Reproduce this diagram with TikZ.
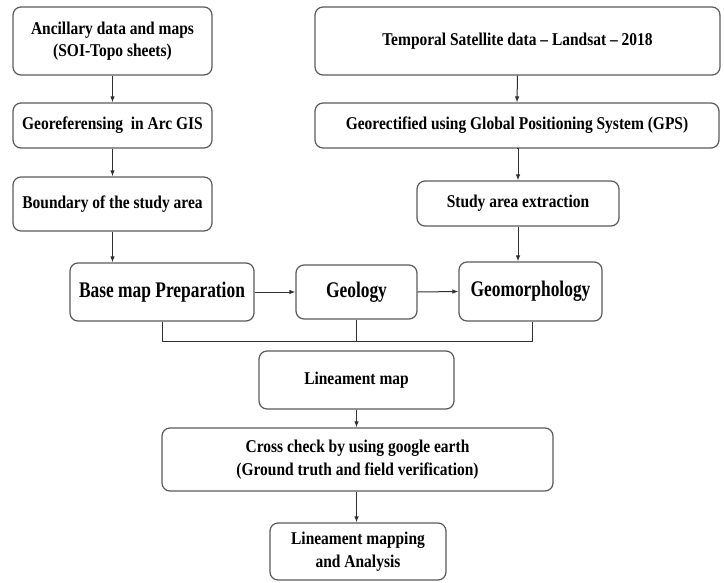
\documentclass[tikz,border=0pt]{standalone}
\usepackage{fontspec}
\setmainfont{Liberation Serif}[FakeStretch=0.86]
\newfontfamily\bigfont{Liberation Serif}[FakeStretch=0.78]
\usetikzlibrary{arrows.meta}
\definecolor{boxline}{HTML}{5A5A5A}
\definecolor{arrline}{HTML}{303030}
\tikzset{
  box/.style={draw=boxline, line width=1.2pt, rounded corners=8pt, align=center,
    inner sep=0pt, font=\fontsize{18}{22.5}\selectfont\bfseries, text=black},
  bigbox/.style={box, font=\bigfont\fontsize{22.3}{26}\selectfont\bfseries},
  arr/.style={draw=arrline, line width=1pt, -{Latex[length=6pt,width=4.5pt]}},
  conn/.style={draw=arrline, line width=1pt}
}
\begin{document}
\begin{tikzpicture}[x=1pt,y=-1pt]
\useasboundingbox (0,0) rectangle (724,582);
\node[box, minimum width=199pt, minimum height=68pt] (A) at (112.5,41) {Ancillary data and maps\\(SOI-Topo sheets)};
\node[box, minimum width=199pt, minimum height=45pt] (B) at (112.5,125.5) {Georeferensing \ in Arc GIS};
\node[box, minimum width=199pt, minimum height=54pt] (C) at (112.5,204) {Boundary of the study area};
\node[box, minimum width=405pt, minimum height=68pt] (T) at (517.5,41) {Temporal Satellite data -- Landsat -- 2018};
\node[box, minimum width=404pt, minimum height=45pt] (G) at (517,125.5) {Georectified using Global Positioning System (GPS)};
\node[box, minimum width=202pt, minimum height=45pt] (S) at (518,203.5) {Study area extraction};
\node[bigbox, minimum width=184pt, minimum height=58pt] (Base) at (162,292) {Base map Preparation};
\node[bigbox, minimum width=121pt, minimum height=54pt] (Geol) at (356.5,292) {Geology};
\node[bigbox, minimum width=143pt, minimum height=59pt] (Geom) at (530.5,291.5) {Geomorphology};
\node[box, minimum width=195pt, minimum height=58pt] (Lin) at (356.5,380) {Lineament map};
\node[box, minimum width=391pt, minimum height=63pt] (Cross) at (357.5,459.5) {Cross check by using google earth\\(Ground truth and field verification)};
\node[box, minimum width=176pt, minimum height=57pt] (Fin) at (358,551.5) {Lineament mapping\\and Analysis};

\draw[arr] (A.south) -- (B.north);
\draw[arr] (B.south) -- (C.north);
\draw[arr] (C.south) -- (C.south |- Base.north);
\draw[arr] (T.south) -- (G.north);
\draw[arr] (G.south) -- (S.south |- G.south) -- (S.north);
\draw[arr] (S.south) -- (S.south |- Geom.north);
\draw[arr] (Base.east) -- (Geol.west);
\draw[arr] (Geol.east) -- (Geom.west);
\coordinate (bl) at (162,341);
\coordinate (br) at (532,341);
\draw[conn] (Base.south) -- (bl) -- (br) -- (br |- Geom.south);
\draw[conn] (Geol.south) -- (Geol.south |- bl);
\draw[arr] (Lin.south) -- (Cross.north -| Lin.south);
\draw[arr] (Cross.south -| Lin.south) -- (Fin.north -| Lin.south);
\end{tikzpicture}
\end{document}
